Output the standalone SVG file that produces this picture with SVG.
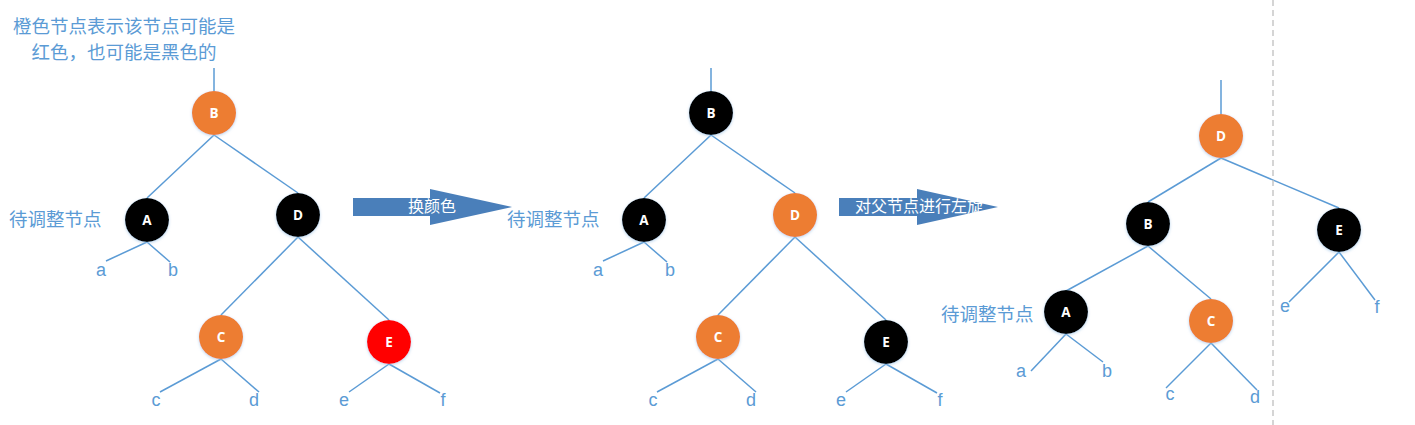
<svg xmlns="http://www.w3.org/2000/svg" width="1415" height="425" viewBox="0 0 1415 425">
<defs>
<filter id="sh" x="-30%" y="-30%" width="160%" height="160%">
<feGaussianBlur in="SourceAlpha" stdDeviation="1.5"/>
<feOffset dx="0" dy="1" result="b"/>
<feFlood flood-color="#9dc3e6" flood-opacity="0.7"/>
<feComposite in2="b" operator="in"/>
<feMerge><feMergeNode/><feMergeNode in="SourceGraphic"/></feMerge>
</filter>
</defs>
<style>
.e{stroke:#5b9bd5;stroke-width:1.5;fill:none}
.o{fill:#ed7d31;filter:url(#sh)}
.k{fill:#000;filter:url(#sh)}
.r{fill:#ff0000;filter:url(#sh)}
.nl{fill:#fff;font-family:"Open Sans","Liberation Sans",sans-serif;font-weight:bold;font-size:13.5px;text-anchor:middle}
.lf{fill:#5b9bd5;font-family:"Liberation Sans",Arial,sans-serif;font-size:18px;text-anchor:middle}
.cn{fill:#5b9bd5;font-family:"Noto Sans CJK SC",sans-serif;font-size:18.5px}
.ar{fill:#4a7fba}
.at{fill:#fff;font-family:"Noto Sans CJK SC",sans-serif;font-size:16px}
</style>
<rect width="1415" height="425" fill="#fff"/>
<g id="connectors">
<line class="e" x1="214" y1="68" x2="214" y2="91"/>
<line class="e" x1="214" y1="135" x2="147" y2="198"/>
<line class="e" x1="214" y1="135" x2="298" y2="193"/>
<line class="e" x1="147" y1="242" x2="106" y2="261"/>
<line class="e" x1="147" y1="242" x2="170" y2="262"/>
<line class="e" x1="298" y1="237" x2="221" y2="315"/>
<line class="e" x1="298" y1="237" x2="389" y2="320"/>
<line class="e" x1="221" y1="359" x2="160" y2="392"/>
<line class="e" x1="221" y1="359" x2="259" y2="392"/>
<line class="e" x1="389" y1="364" x2="349" y2="392"/>
<line class="e" x1="389" y1="364" x2="440" y2="393"/>
<line class="e" x1="711" y1="68" x2="711" y2="91"/>
<line class="e" x1="711" y1="135" x2="644" y2="198"/>
<line class="e" x1="711" y1="135" x2="795" y2="193"/>
<line class="e" x1="644" y1="242" x2="603" y2="261"/>
<line class="e" x1="644" y1="242" x2="667" y2="262"/>
<line class="e" x1="795" y1="237" x2="718" y2="315"/>
<line class="e" x1="795" y1="237" x2="886" y2="320"/>
<line class="e" x1="718" y1="359" x2="657" y2="392"/>
<line class="e" x1="718" y1="359" x2="756" y2="392"/>
<line class="e" x1="886" y1="364" x2="846" y2="392"/>
<line class="e" x1="886" y1="364" x2="937" y2="393"/>
<line class="e" x1="1221" y1="80" x2="1221" y2="114"/>
<line class="e" x1="1221" y1="158" x2="1148" y2="202"/>
<line class="e" x1="1221" y1="158" x2="1339" y2="208"/>
<line class="e" x1="1148" y1="246" x2="1066" y2="291"/>
<line class="e" x1="1148" y1="246" x2="1211" y2="299"/>
<line class="e" x1="1066" y1="334" x2="1031" y2="371"/>
<line class="e" x1="1066" y1="334" x2="1103" y2="362"/>
<line class="e" x1="1211" y1="343" x2="1166" y2="388"/>
<line class="e" x1="1211" y1="343" x2="1257" y2="390"/>
<line class="e" x1="1339" y1="252" x2="1289" y2="302"/>
<line class="e" x1="1339" y1="252" x2="1375" y2="300"/>
</g>
<line x1="1273" y1="0" x2="1273" y2="425" stroke="#bfbfbf" stroke-width="1.3" stroke-dasharray="6,4"/>
<g id="title"><text class="cn" x="124" y="33" text-anchor="middle" font-size="18.5">橙色节点表示该节点可能是</text><text class="cn" x="124" y="59" text-anchor="middle" font-size="18.5">红色，也可能是黑色的</text></g>
<g id="t1B"><circle class="o" cx="214" cy="113" r="22"/><text class="nl" x="214" y="118">B</text></g>
<g id="t1A"><circle class="k" cx="147" cy="220" r="22"/><text class="nl" x="147" y="225">A</text></g>
<g id="t1D"><circle class="k" cx="298" cy="215" r="22"/><text class="nl" x="298" y="220">D</text></g>
<g id="t1C"><circle class="o" cx="221" cy="337" r="22"/><text class="nl" x="221" y="342">C</text></g>
<g id="t1E"><circle class="r" cx="389" cy="342" r="22"/><text class="nl" x="389" y="347">E</text></g>
<g id="t1leaves"><text class="lf" x="101" y="276">a</text><text class="lf" x="173" y="276">b</text><text class="lf" x="156" y="406">c</text><text class="lf" x="254" y="406">d</text><text class="lf" x="344" y="406">e</text><text class="lf" x="443" y="406">f</text></g>
<g id="lbl1"><text class="cn" x="9" y="226">待调整节点</text></g>
<g id="arrow1"><path class="ar" d="M353,198 H430 V189 L512,207 L430,225 V216 H353 Z"/><text class="at" x="432" y="212" text-anchor="middle">换颜色</text></g>
<g id="lbl2"><text class="cn" x="507" y="226">待调整节点</text></g>
<g id="t2B"><circle class="k" cx="711" cy="113" r="22"/><text class="nl" x="711" y="118">B</text></g>
<g id="t2A"><circle class="k" cx="644" cy="220" r="22"/><text class="nl" x="644" y="225">A</text></g>
<g id="t2D"><circle class="o" cx="795" cy="215" r="22"/><text class="nl" x="795" y="220">D</text></g>
<g id="t2C"><circle class="o" cx="718" cy="337" r="22"/><text class="nl" x="718" y="342">C</text></g>
<g id="t2E"><circle class="k" cx="886" cy="342" r="22"/><text class="nl" x="886" y="347">E</text></g>
<g id="t2leaves"><text class="lf" x="598" y="276">a</text><text class="lf" x="670" y="276">b</text><text class="lf" x="653" y="406">c</text><text class="lf" x="751" y="406">d</text><text class="lf" x="841" y="406">e</text><text class="lf" x="940" y="406">f</text></g>
<g id="arrow2"><path class="ar" d="M839,198 H917 V189 L998,207 L917,225 V216 H839 Z"/><text class="at" x="855" y="212">对父节点进行左旋</text></g>
<g id="t3D"><circle class="o" cx="1221" cy="136" r="22"/><text class="nl" x="1221" y="141">D</text></g>
<g id="t3B"><circle class="k" cx="1148" cy="224" r="22"/><text class="nl" x="1148" y="229">B</text></g>
<g id="t3E"><circle class="k" cx="1339" cy="230" r="22"/><text class="nl" x="1339" y="235">E</text></g>
<g id="t3A"><circle class="k" cx="1066" cy="312" r="22"/><text class="nl" x="1066" y="317">A</text></g>
<g id="t3C"><circle class="o" cx="1211" cy="321" r="22"/><text class="nl" x="1211" y="326">C</text></g>
<g id="t3leaves"><text class="lf" x="1021" y="377">a</text><text class="lf" x="1107" y="377">b</text><text class="lf" x="1170" y="400">c</text><text class="lf" x="1255" y="403">d</text><text class="lf" x="1285" y="312">e</text><text class="lf" x="1377" y="313">f</text></g>
<g id="lbl3"><text class="cn" x="941" y="321">待调整节点</text></g>
</svg>
